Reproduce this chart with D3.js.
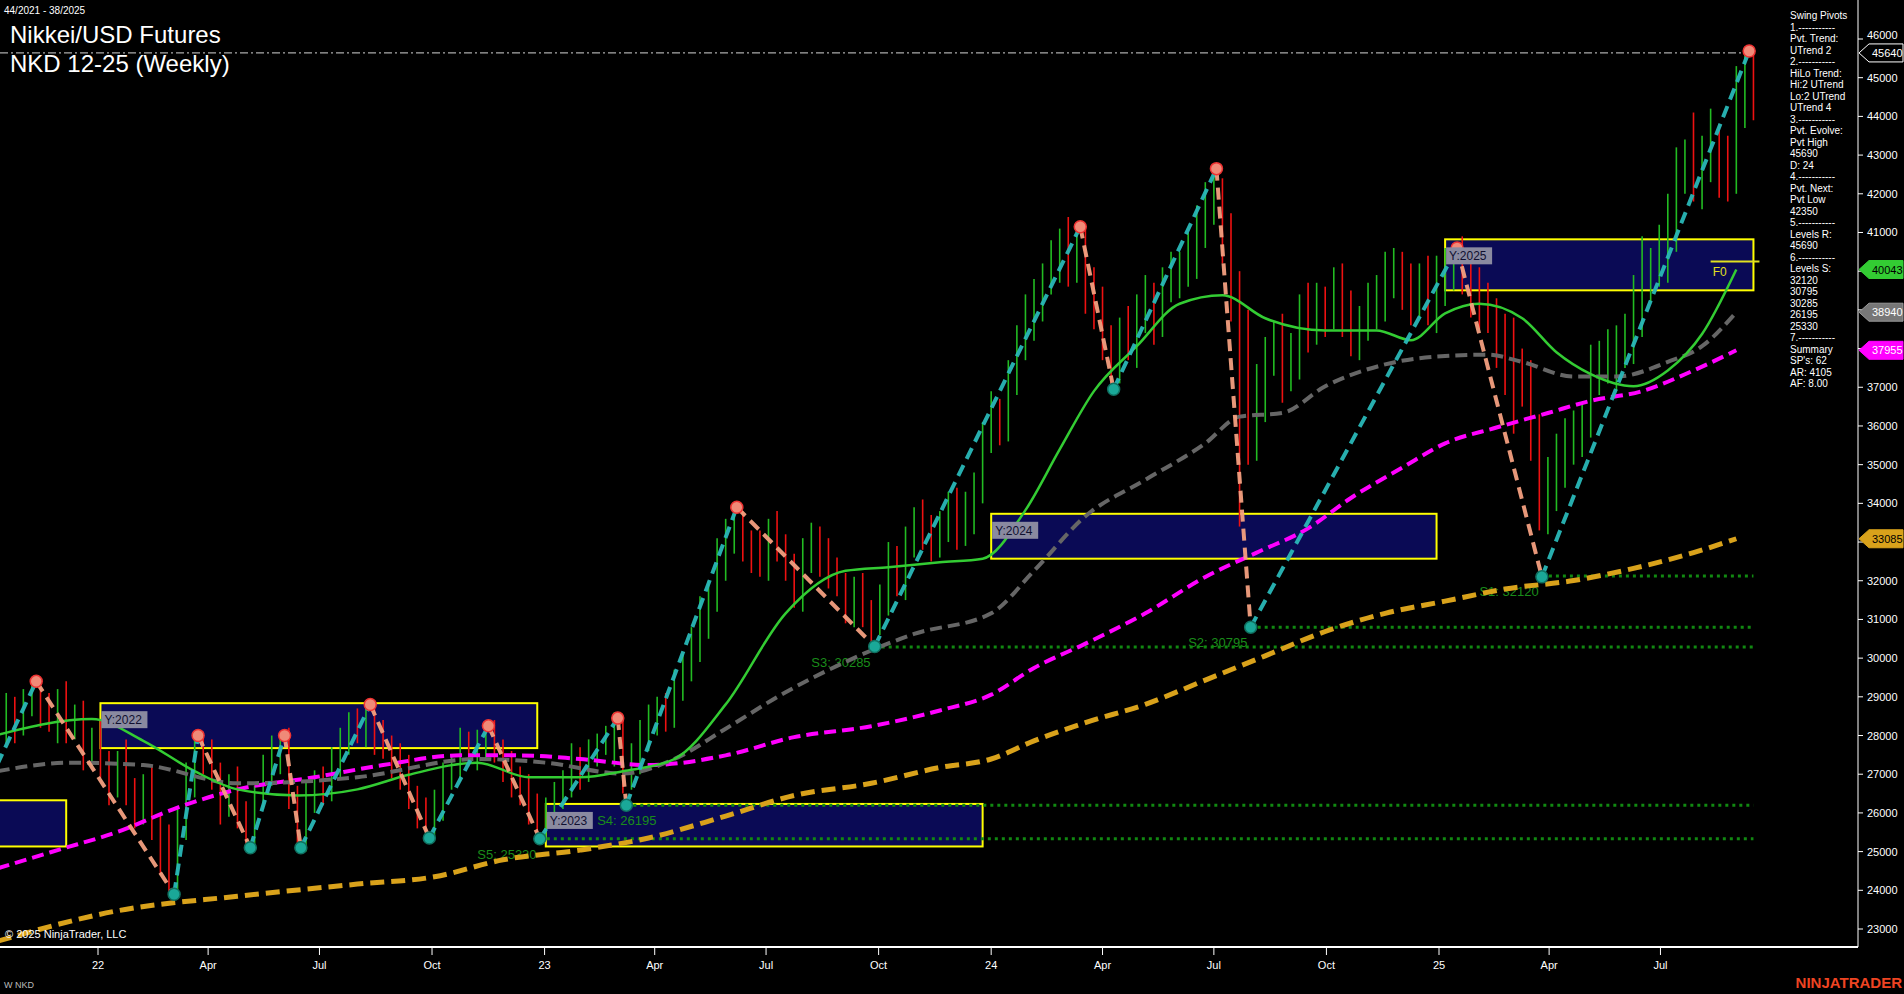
<!DOCTYPE html>
<html><head><meta charset="utf-8">
<script src="https://cdn.jsdelivr.net/npm/d3@7/dist/d3.min.js"></script>
<style>body{margin:0;background:#000;overflow:hidden}text{font-family:Arial,"Liberation Sans",sans-serif}</style>
</head><body><svg id="c" width="1904" height="994"></svg>
<script>
// ---- data ----
const startWeek = "2021-10-11";
const closes = [28100,28600,28300,28900,29100,
28700,28400,28900,28200,28500,27600,27900,27200,26800,27300,26500,26100,26700,25600,25100,24400,
25600,26900,27800,
27400,26900,26300,26700,25900,25600,
26400,27100,27500,27800,
26400,25500,
26300,26800,26600,27400,27900,28200,28100,28600,
28000,27700,27300,27100,26400,26000,25700,
26300,26900,27200,27700,27500,27900,28000,
27600,27200,26900,26500,26100,25800,
26100,26400,26800,27300,27100,27600,27800,27900,28100,
26900,
27500,28000,28300,28700,28600,29200,29800,30400,31100,31600,32500,33100,33400,
33000,32800,32500,33200,32900,32300,31800,32600,33100,32600,32200,31900,31400,31700,31200,30900,
31500,32400,32100,33000,33600,33300,32900,33500,33900,33200,33700,34400,35600,36300,36100,37200,38000,38700,39300,39800,40200,40600,40300,40700,
39800,39000,38100,37600,
38400,38100,38900,39300,38800,39600,39900,40100,40500,41100,41600,42000,
40800,39500,38400,35600,
36800,37900,38200,37400,37800,38900,38600,39200,38900,39500,39000,38300,38700,39100,39400,39800,40100,39600,39300,39700,39200,39800,40100,40300,
39900,39400,39200,38900,38300,38000,37500,37100,35800,33800,
34500,34900,35600,35900,36200,37400,37600,37700,38100,38300,39200,39800,40100,40500,41200,42600,42900,42300,42900,43300,42700,42500,44300,45100,44600];
const wickUp = [300,500,400,300,300,200,400,300,500,300,400,300,500,400,300,600,400,300,500,400,
600,500,400,200,300,500,400,300,500,400,300,400,500,200,400,300,500,300,400,300,
300,400,500,200,300,400,300,500,400,300,400,300,400,300,500,400,250,300,400,300,
400,300,500,400,300,400,300,500,400,300,250,350,500,400,300,400,500,300,400,500,
300,400,500,400,600,500,500,400,300,500,400,600,300,400,500,400,300,500,400,300,
400,500,300,400,600,500,400,300,500,400,300,400,500,600,400,500,600,400,500,600,
700,500,400,600,500,800,500,400,300,600,500,400,700,500,600,400,500,600,400,500,
600,700,500,400,700,500,600,800,400,500,700,600,500,800,500,400,600,700,500,400,
600,500,700,500,400,600,500,700,600,500,400,600,500,700,500,400,600,800,500,600,
500,700,900,600,500,400,700,600,800,500,600,700,1100,500,700,800,600,500,1200,600,
900,500,800,1000,700,590];
const wickDn = [400,300,500,300,400,500,300,600,400,300,500,400,300,600,400,300,500,400,300,700,
500,400,300,500,400,300,600,400,300,500,400,300,400,500,300,400,500,300,400,300,
500,400,300,400,500,300,400,500,300,400,350,400,500,300,400,300,400,500,300,400,
500,300,400,300,500,400,300,400,500,300,400,300,700,400,300,500,400,300,500,400,
300,400,500,600,400,500,400,500,600,400,500,400,300,500,600,400,500,400,300,500,
600,400,500,300,400,500,600,400,500,400,300,500,400,300,500,400,300,600,500,400,
300,500,600,400,500,700,600,900,500,400,600,500,400,600,500,700,500,400,600,500,
700,500,400,600,800,5000,600,500,700,600,800,500,600,700,500,600,400,700,500,600,
500,600,700,500,600,700,500,600,800,700,600,500,600,700,500,800,1200,1700,600,700,
500,600,700,500,600,700,500,600,500,800,600,700,900,600,500,800,700,600,500,700,
600,800,700,500,600,700];
const pivots = [[-1,26800,"L"],[4.5,29400,"H"],[20.6,23900,"L"],[23.4,28000,"H"],[29.5,25100,"L"],[33.5,28000,"H"],
[35.4,25100,"L"],[43.5,28800,"H"],[50.4,25350,"L"],[57.3,28250,"H"],[63.3,25330,"L"],[72.4,28450,"H"],
[73.4,26200,"L"],[86.3,33900,"H"],[102.4,30300,"L"],[126.4,41150,"H"],[130.3,36950,"L"],[142.3,42650,"H"],
[146.3,30800,"L"],[170.4,40600,"H"],[180.3,32100,"L"],[204.5,45690,"H"]];
const maFast = [[0,28020],[11,28427],[17,27863],[23,27079],[28,26608],[35,26451],[42,26608],[48,26984],[56,27298],[62,26922],[68,26922],[73,27079],[79,27393],[85,28805],[92,31158],[99,32256],[104,32350],[110,32476],[115,32570],[120,33825],[124,35394],[128,36900],[133,38061],[138,39159],[143,39379],[148,38783],[155,38469],[161,38469],[165,38218],[169,38908],[173,39159],[178,38783],[182,37904],[186,37340],[191,37026],[195,37434],[199,38375],[203,40043]];
const maMid = [[0,27079],[8.5,27298],[17,27236],[28,26765],[42,26922],[56,27393],[64,27298],[73,27016],[79,27393],[85,28177],[92,29119],[99,29904],[107,30625],[116,31158],[121,32256],[127,33668],[134,34609],[141,35551],[145,36241],[150,36335],[155,37026],[162,37591],[169,37810],[174,37842],[178,37654],[184,37277],[189,37277],[195,37654],[199,38061],[203,38940]];
const maSlow = [[0,24568],[7,25039],[14,25510],[21,26137],[28,26608],[37,26922],[45,27236],[54,27487],[61,27487],[68,27393],[76,27236],[85,27487],[93,27958],[102,28240],[110,28648],[116,29056],[121,29747],[127,30374],[134,31158],[141,32099],[147,32727],[153,33354],[158,34139],[164,34923],[169,35551],[175,35959],[181,36335],[186,36649],[192,36900],[198,37434],[203,37955]];
const maLong = [[0,22686],[14,23471],[28,23847],[42,24160],[51,24349],[59,24788],[68,25039],[76,25353],[85,25918],[93,26451],[102,26765],[110,27173],[116,27393],[121,27863],[127,28334],[134,28805],[141,29433],[148,30060],[155,30688],[162,31158],[169,31472],[176,31786],[184,32006],[191,32319],[198,32727],[203,33085]];
const yearBoxes = [["",-12,8,26326,25133],["Y:2022",12,63,28836,27675],["Y:2023",64,115,26232,25133],["Y:2024",116,168,33730,32570],["Y:2025",169,205,40823,39505]];
const supports = [["S1: 32120",32120,180.3,173],["S2: 30795",30795,146.3,139],["S3: 30285",30285,102.4,95],["S4: 26195",26195,73.4,70],["S5: 25330",25330,63.3,56]];
const yTicks = d3.range(23000,46001,1000);
const panelLines = ["Swing Pivots","1.-----------","Pvt. Trend:","UTrend 2","2.-----------","HiLo Trend:","Hi:2 UTrend","Lo:2 UTrend","UTrend 4","3.-----------","Pvt. Evolve:","Pvt High","45690","D: 24","4.-----------","Pvt. Next:","Pvt Low","42350","5.-----------","Levels R:","45690","6.-----------","Levels S:","32120","30795","30285","26195","25330","7.-----------","Summary","SP's: 62","AR: 4105","AF: 8.00"];
const axisTags = [[45640,"#000","#fff","#fff"],[40043,"#33cc33","#000","#33cc33"],[38940,"#777","#fff","#999"],[37955,"#ff00ff","#fff","#ff00ff"],[33085,"#d9a21b","#000","#d9a21b"]];

// ---- drawing ----
const svg = d3.select("#c");
const W=1904,H=994, axX=1858, axY=947;
const x = d3.scaleTime().domain([new Date(2022,0,1),new Date(2025,0,1)]).range([98,1439]);
const y = d3.scaleLinear().domain([23000,46000]).range([929,39]);
const t0 = new Date(startWeek+"T00:00:00");
const wd = w => new Date(t0.getTime()+w*7*864e5);
const xw = w => x(wd(w));
const plot = svg.append("g").attr("clip-path","url(#clp)");
svg.append("clipPath").attr("id","clp").append("rect").attr("width",axX).attr("height",axY);

yearBoxes.forEach(b=>{
  plot.append("rect").attr("x",xw(b[1])).attr("y",y(b[3])).attr("width",xw(b[2])-xw(b[1])).attr("height",y(b[4])-y(b[3]))
   .attr("fill","#0a0a55").attr("stroke","#ffff00").attr("stroke-width",2);
});
supports.forEach(s=>{
  plot.append("line").attr("x1",xw(s[2])).attr("x2",xw(205)).attr("y1",y(s[1])).attr("y2",y(s[1]))
   .attr("stroke","#118811").attr("stroke-width",3).attr("stroke-dasharray","3,4");
  plot.append("text").attr("x",xw(s[3])).attr("y",y(s[1])+20).attr("fill","#1a8c1a").attr("font-size",13).text(s[0]);
});
plot.append("line").attr("x1",0).attr("x2",xw(205)).attr("y1",y(45640)).attr("y2",y(45640))
  .attr("stroke","#aaa").attr("stroke-width",1.3).attr("stroke-dasharray","8,3,2,3");
closes.forEach((c,i)=>{
  const o = i? closes[i-1] : 27900;
  const hi = Math.max(o,c)+wickUp[i], lo = Math.min(o,c)-wickDn[i];
  plot.append("line").attr("x1",xw(i)).attr("x2",xw(i)).attr("y1",y(hi)).attr("y2",y(lo))
   .attr("stroke", c>=o? "#22bb22":"#ee1111").attr("stroke-width",1.6);
});
const ml = d3.line().x(d=>xw(d[0])).y(d=>y(d[1])).curve(d3.curveMonotoneX);
plot.append("path").attr("d",ml(maLong)).attr("fill","none").attr("stroke","#d9a21b").attr("stroke-width",5).attr("stroke-dasharray","14,7");
plot.append("path").attr("d",ml(maSlow)).attr("fill","none").attr("stroke","#ff00ff").attr("stroke-width",4).attr("stroke-dasharray","12,6");
plot.append("path").attr("d",ml(maMid)).attr("fill","none").attr("stroke","#666").attr("stroke-width",4).attr("stroke-dasharray","12,6");
plot.append("path").attr("d",ml(maFast)).attr("fill","none").attr("stroke","#33cc33").attr("stroke-width",2.5);
for(let i=1;i<pivots.length;i++){
  const a=pivots[i-1], b=pivots[i], up=b[2]==="H";
  plot.append("line").attr("x1",xw(a[0])).attr("y1",y(a[1])).attr("x2",xw(b[0])).attr("y2",y(b[1]))
   .attr("stroke", up?"#2ab8b8":"#f4a080").attr("stroke-width",4).attr("stroke-dasharray","12,7").attr("opacity",0.95);
}
pivots.slice(1).forEach(p=>{
  plot.append("circle").attr("cx",xw(p[0])).attr("cy",y(p[1])).attr("r",6)
   .attr("fill", p[2]==="H"?"#f08a78":"#1aa898").attr("stroke",p[2]==="H"?"#ee3333":"#107060").attr("stroke-width",1.5);
});
yearBoxes.forEach(b=>{ if(!b[0])return;
  const g=plot.append("g");
  g.append("rect").attr("x",xw(b[1])+1).attr("y",y(b[3])+8).attr("width",46).attr("height",17).attr("fill","#8a8aa0");
  g.append("text").attr("x",xw(b[1])+4).attr("y",y(b[3])+21).attr("fill","#101030").attr("font-size",12).text(b[0]);
});
plot.append("line").attr("x1",xw(200)).attr("x2",xw(205)+6).attr("y1",y(40250)).attr("y2",y(40250)).attr("stroke","#e0e020").attr("stroke-width",2);
plot.append("text").attr("x",xw(200)+2).attr("y",y(40250)+14).attr("fill","#e0e020").attr("font-size",12).text("F0");

svg.append("line").attr("x1",axX).attr("x2",axX).attr("y1",0).attr("y2",axY).attr("stroke","#fff");
svg.append("line").attr("x1",0).attr("x2",axX).attr("y1",axY).attr("y2",axY).attr("stroke","#fff").attr("stroke-width",2);
yTicks.forEach(v=>{
  svg.append("line").attr("x1",axX).attr("x2",axX+5).attr("y1",y(v)).attr("y2",y(v)).attr("stroke","#fff");
  const clash = axisTags.some(t=>Math.abs(y(t[0])-y(v))<10);
  if(!clash) svg.append("text").attr("x",axX+9).attr("y",y(v)+(v===46000?0:4)).attr("fill","#fff").attr("font-size",11).text(v);
});
axisTags.forEach(t=>{
  const yy=y(t[0]);
  svg.append("path").attr("d",`M${axX+1},${yy} L${axX+11},${yy-9} L${W-1},${yy-9} L${W-1},${yy+9} L${axX+11},${yy+9} Z`)
    .attr("fill",t[1]).attr("stroke",t[3]);
  svg.append("text").attr("x",axX+14).attr("y",yy+4).attr("fill",t[2]).attr("font-size",11).text(t[0]);
});
const xt = [[2022,0,"22"],[2022,3,"Apr"],[2022,6,"Jul"],[2022,9,"Oct"],[2023,0,"23"],[2023,3,"Apr"],[2023,6,"Jul"],[2023,9,"Oct"],[2024,0,"24"],[2024,3,"Apr"],[2024,6,"Jul"],[2024,9,"Oct"],[2025,0,"25"],[2025,3,"Apr"],[2025,6,"Jul"]];
xt.forEach(t=>{
  const xx=x(new Date(t[0],t[1],1));
  svg.append("line").attr("x1",xx).attr("x2",xx).attr("y1",axY).attr("y2",axY+8).attr("stroke","#fff");
  svg.append("text").attr("x",xx).attr("y",axY+22).attr("text-anchor","middle").attr("fill","#fff").attr("font-size",11).text(t[2]);
});
svg.append("text").attr("x",4).attr("y",14).attr("fill","#fff").attr("font-size",10).text("44/2021 - 38/2025");
svg.append("text").attr("x",10).attr("y",43).attr("fill","#fff").attr("font-size",24).text("Nikkei/USD Futures");
svg.append("text").attr("x",10).attr("y",72).attr("fill","#fff").attr("font-size",24).text("NKD 12-25 (Weekly)");
svg.append("text").attr("x",5).attr("y",938).attr("fill","#fff").attr("font-size",11).text("© 2025 NinjaTrader, LLC");
svg.append("text").attr("x",4).attr("y",988).attr("fill","#bbb").attr("font-size",9).text("W NKD");
svg.append("text").attr("x",W-2).attr("y",988).attr("text-anchor","end").attr("fill","#ee4422").attr("font-size",15).attr("font-weight","bold").text("NINJATRADER");
panelLines.forEach((s,i)=>{
  svg.append("text").attr("x",1790).attr("y",19+i*11.5).attr("fill","#fff").attr("font-size",10).text(s);
});
</script></body></html>
